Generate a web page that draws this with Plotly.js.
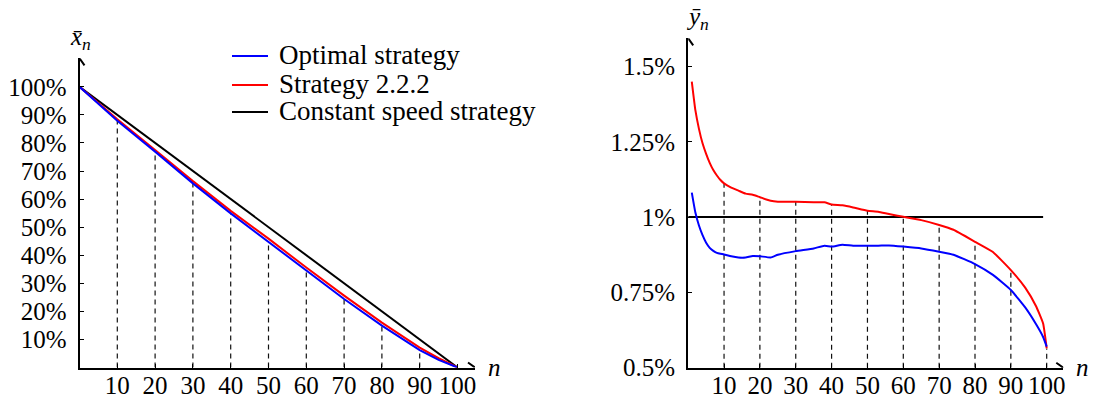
<!DOCTYPE html>
<html>
<head>
<meta charset="utf-8">
<script src="https://cdn.plot.ly/plotly-3.0.1.min.js"></script>
<style>html,body{margin:0;padding:0;background:#fff;}#chart{width:1093px;height:402px;}</style>
</head>
<body>
<div id="chart"></div>
<script>
// ---------- Left panel: remaining position x̄_n (%) ----------
const nLeft = [0, 5, 10, 20, 30, 40, 50, 60, 70, 80, 90, 95, 100];
const optimalLeft = [100, 94.0, 87.9, 76.9, 65.6, 54.9, 44.8, 34.4, 24.4, 14.9, 6.2, 2.7, 0];
const strategyLeft = [100, 94.3, 88.4, 77.5, 66.4, 55.8, 45.9, 35.6, 25.6, 16.0, 7.1, 3.3, 0];
const constantLeftN = [0, 100];
const constantLeftY = [100, 0];
const leftTickVals = [10, 20, 30, 40, 50, 60, 70, 80, 90, 100];
const leftTickText = ["10%", "20%", "30%", "40%", "50%", "60%", "70%", "80%", "90%", "100%"];
const leftDashN = [10, 20, 30, 40, 50, 60, 70, 80, 90];
const leftXTicks = [10, 20, 30, 40, 50, 60, 70, 80, 90, 100];

// ---------- Right panel: trading rate ȳ_n (%) ----------
const nRight = [1, 2, 3, 4, 5, 6, 7, 8, 9, 10, 12, 14, 16, 18, 20, 23, 25, 30, 35, 38, 40, 43, 46, 50, 53, 56, 60, 65, 70, 74, 80, 85, 90, 94, 97, 99, 100];
const optimalRight = [1.081, 1.015, 0.972, 0.940, 0.915, 0.898, 0.888, 0.881, 0.878, 0.876, 0.870, 0.866, 0.866, 0.871, 0.870, 0.866, 0.875, 0.887, 0.896, 0.905, 0.902, 0.908, 0.905, 0.905, 0.905, 0.906, 0.902, 0.896, 0.885, 0.875, 0.844, 0.808, 0.758, 0.700, 0.645, 0.602, 0.570];
const strategyRight = [1.450, 1.355, 1.293, 1.245, 1.210, 1.180, 1.156, 1.138, 1.123, 1.112, 1.098, 1.088, 1.078, 1.074, 1.066, 1.054, 1.051, 1.051, 1.049, 1.049, 1.042, 1.039, 1.032, 1.021, 1.018, 1.010, 1.001, 0.990, 0.974, 0.958, 0.918, 0.884, 0.824, 0.766, 0.705, 0.647, 0.564];
const constantRightN = [0, 99];
const constantRightY = [1, 1];
const rightXTicks = [10, 20, 30, 40, 50, 60, 70, 80, 90, 100];
const rightTickVals = [0.5, 0.75, 1, 1.25, 1.5];
const rightTickText = ["0.5%", "0.75%", "1%", "1.25%", "1.5%"];
const rightDashN = [10, 20, 30, 40, 50, 60, 70, 80, 90, 100];

const legendNames = ["Optimal strategy", "Strategy 2.2.2", "Constant speed strategy"];
const BLUE = "#0000ff", RED = "#ff0000", BLACK = "#000000";
const FONT = "Liberation Serif";
const FS = 25;
const LFS = 27;

function dashTrace(ns, xs, ys, xa, ya, base) {
  const x = [], y = [];
  ns.forEach(n => {
    const i = xs.indexOf(n);
    x.push(n, n, null); y.push(base, ys[i], null);
  });
  return {x, y, xaxis: xa, yaxis: ya, mode: 'lines', showlegend: false, hoverinfo: 'skip',
          line: {color: '#111', width: 1.2, dash: '5px,4px'}};
}

const traces = [
  dashTrace(leftDashN, nLeft, optimalLeft, 'x', 'y', 0),
  dashTrace(rightDashN, nRight, strategyRight, 'x2', 'y2', 0.5),
  {x: constantLeftN, y: constantLeftY, xaxis: 'x', yaxis: 'y', mode: 'lines', line: {color: BLACK, width: 2}, showlegend: false},
  {x: nLeft, y: strategyLeft, xaxis: 'x', yaxis: 'y', mode: 'lines', line: {color: RED, width: 2}, showlegend: false},
  {x: nLeft, y: optimalLeft, xaxis: 'x', yaxis: 'y', mode: 'lines', line: {color: BLUE, width: 2}, showlegend: false},
  {x: constantRightN, y: constantRightY, xaxis: 'x2', yaxis: 'y2', mode: 'lines', line: {color: BLACK, width: 2}, showlegend: false},
  {x: nRight, y: strategyRight, xaxis: 'x2', yaxis: 'y2', mode: 'lines', line: {color: RED, width: 2, shape: 'spline', smoothing: 0.4}, showlegend: false},
  {x: nRight, y: optimalRight, xaxis: 'x2', yaxis: 'y2', mode: 'lines', line: {color: BLUE, width: 2, shape: 'spline', smoothing: 0.4}, showlegend: false}
];

const W = 1093, H = 402;
const px = v => v / W, py = v => (H - v) / H;

const axisCommon = {
  showline: true, linecolor: BLACK, linewidth: 2, showgrid: false, zeroline: false,
  ticks: 'inside', ticklen: 4, tickwidth: 1, tickcolor: BLACK,
  tickfont: {family: FONT, size: FS, color: BLACK}, tickmode: 'array', fixedrange: true
};

const layout = {
  width: W, height: H, autosize: false,
  margin: {l: 0, r: 0, t: 0, b: 0, pad: 0},
  paper_bgcolor: '#fff', plot_bgcolor: 'rgba(0,0,0,0)',
  showlegend: false,
  font: {family: FONT, size: FS, color: BLACK},
  xaxis: Object.assign({}, axisCommon, {domain: [px(79.5), px(475)], range: [0, 104.63], tickvals: leftXTicks, ticktext: leftXTicks.map(String), anchor: 'y', ticklabelstandoff: -6}),
  yaxis: Object.assign({}, axisCommon, {domain: [py(367.5), py(58.3)], range: [0, 110.15], tickvals: leftTickVals, ticktext: leftTickText, anchor: 'x', ticklabelstandoff: 6}),
  xaxis2: Object.assign({}, axisCommon, {domain: [px(688.2), px(1063.3)], range: [0, 104.63], tickvals: rightXTicks, ticktext: rightXTicks.map(String), anchor: 'y2', ticklabelstandoff: -6}),
  yaxis2: Object.assign({}, axisCommon, {domain: [py(367.7), py(38.3)], range: [0.5, 1.5936], tickvals: rightTickVals, ticktext: rightTickText, anchor: 'x2', ticklabelstandoff: 6}),
  shapes: [
    {type: 'path', xref: 'x', yref: 'y', xsizemode: 'pixel', ysizemode: 'pixel', xanchor: 104.63, yanchor: 0, path: 'M-7,5 L0,0 L-7,-5', line: {color: BLACK, width: 2}},
    {type: 'path', xref: 'x', yref: 'y', xsizemode: 'pixel', ysizemode: 'pixel', xanchor: 0, yanchor: 110.15, path: 'M-5,-7 L0,0 L5,-7', line: {color: BLACK, width: 2}},
    {type: 'path', xref: 'x2', yref: 'y2', xsizemode: 'pixel', ysizemode: 'pixel', xanchor: 104.63, yanchor: 0.5, path: 'M-7,5 L0,0 L-7,-5', line: {color: BLACK, width: 2}},
    {type: 'path', xref: 'x2', yref: 'y2', xsizemode: 'pixel', ysizemode: 'pixel', xanchor: 0, yanchor: 1.5936, path: 'M-5,-7 L0,0 L5,-7', line: {color: BLACK, width: 2}},
    {type: 'line', xref: 'paper', yref: 'paper', x0: px(232), x1: px(268), y0: py(56), y1: py(56), line: {color: BLUE, width: 2}},
    {type: 'line', xref: 'paper', yref: 'paper', x0: px(232), x1: px(268), y0: py(85), y1: py(85), line: {color: RED, width: 2}},
    {type: 'line', xref: 'paper', yref: 'paper', x0: px(232), x1: px(268), y0: py(112), y1: py(112), line: {color: BLACK, width: 2}}
  ],
  annotations: [
    {xref: 'paper', yref: 'paper', x: px(277), y: py(55), xanchor: 'left', yanchor: 'middle', text: legendNames[0], showarrow: false, font: {family: FONT, size: LFS}},
    {xref: 'paper', yref: 'paper', x: px(277), y: py(84), xanchor: 'left', yanchor: 'middle', text: legendNames[1], showarrow: false, font: {family: FONT, size: LFS}},
    {xref: 'paper', yref: 'paper', x: px(277), y: py(111), xanchor: 'left', yanchor: 'middle', text: legendNames[2], showarrow: false, font: {family: FONT, size: LFS}},
    {xref: 'paper', yref: 'paper', x: px(80), y: py(38), xanchor: 'center', yanchor: 'middle', text: '<i>x̄</i><sub><i>n</i></sub>', showarrow: false, font: {family: FONT, size: FS}},
    {xref: 'paper', yref: 'paper', x: px(697), y: py(19), xanchor: 'center', yanchor: 'middle', text: '<i>ȳ</i><sub><i>n</i></sub>', showarrow: false, font: {family: FONT, size: FS}},
    {xref: 'paper', yref: 'paper', x: px(494), y: py(367), xanchor: 'center', yanchor: 'middle', text: '<i>n</i>', showarrow: false, font: {family: FONT, size: FS}},
    {xref: 'paper', yref: 'paper', x: px(1082), y: py(367), xanchor: 'center', yanchor: 'middle', text: '<i>n</i>', showarrow: false, font: {family: FONT, size: FS}}
  ]
};

Plotly.newPlot('chart', traces, layout, {staticPlot: true, displayModeBar: false});
</script>
</body>
</html>
